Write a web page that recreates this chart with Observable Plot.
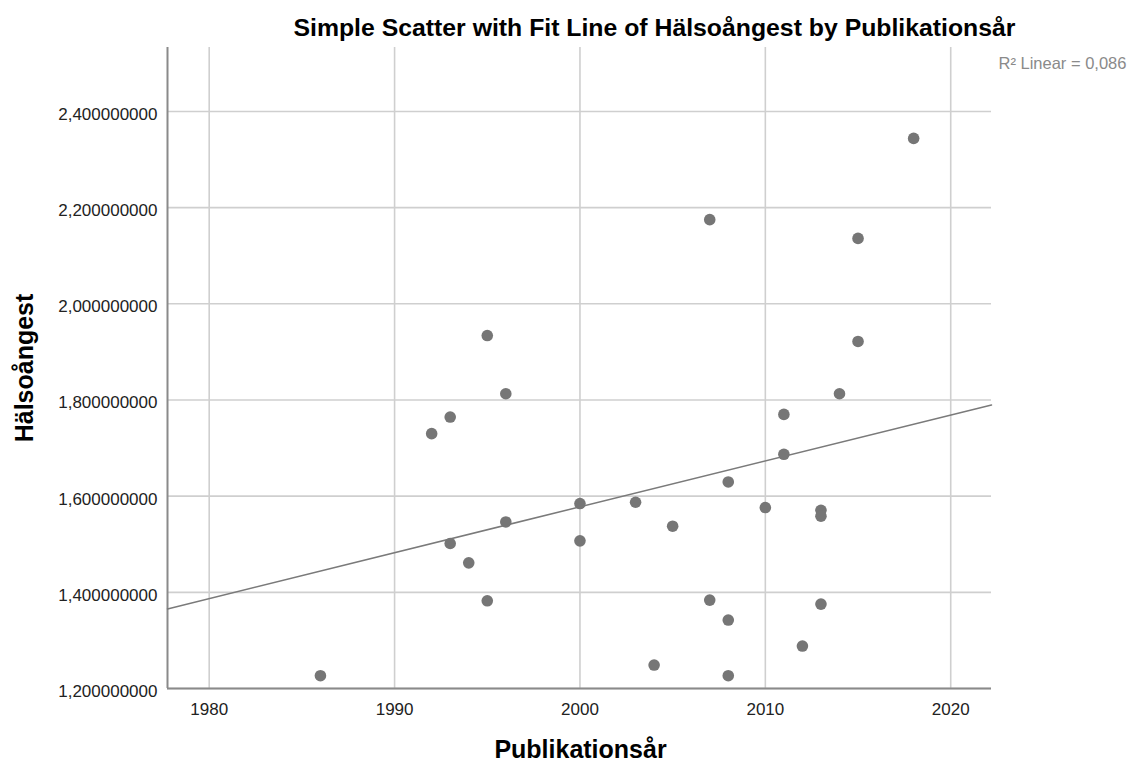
<!DOCTYPE html>
<html>
<head>
<meta charset="utf-8">
<script src="https://cdn.jsdelivr.net/npm/d3@7"></script>
<script src="https://cdn.jsdelivr.net/npm/@observablehq/plot@0.6"></script>
<style>
  html, body { margin: 0; padding: 0; background: #fff; }
</style>
</head>
<body>
<div id="chart"></div>
<script>
// Data
const years = [1986, 1992, 1993, 1993, 1994, 1995, 1995, 1996, 1996, 2000, 2000, 2003, 2004, 2005, 2007, 2007, 2008, 2008, 2008, 2010, 2011, 2011, 2012, 2013, 2013, 2013, 2014, 2015, 2015, 2018];
const halsoangest = [1.2266, 1.730, 1.7645, 1.5015, 1.4613, 1.934, 1.3824, 1.813, 1.5464, 1.5846, 1.507, 1.5873, 1.2488, 1.5375, 2.175, 1.3838, 1.6295, 1.3423, 1.2266, 1.5763, 1.770, 1.687, 1.2883, 1.5707, 1.5583, 1.3755, 1.813, 2.136, 1.9217, 2.344];
const xTicks = [1980, 1990, 2000, 2010, 2020];
const yTicks = [1.2, 1.4, 1.6, 1.8, 2.0, 2.2, 2.4];
const xDomain = [1977.75, 2022.2];
const yDomain = [1.2, 2.533];
const titleText = "Simple Scatter with Fit Line of Hälsoångest by Publikationsår";
const xLabel = "Publikationsår";
const yLabel = "Hälsoångest";
const r2Label = "R\u00B2 Linear = 0,086";

const points = years.map((x, i) => ({x, y: halsoangest[i]}));

// Least-squares fit line across the full axis range
const mx = d3.mean(years), my = d3.mean(halsoangest);
const sxy = d3.sum(points, d => (d.x - mx) * (d.y - my));
const sxx = d3.sum(points, d => (d.x - mx) ** 2);
const slope = sxy / sxx, intercept = my - slope * mx;
const fit = xDomain.map(x => ({x, y: intercept + slope * x}));

const font = "'Liberation Sans', Arial, sans-serif";

const chart = Plot.plot({
  width: 1132,
  height: 765,
  marginLeft: 167,
  marginRight: 141,
  marginTop: 47,
  marginBottom: 77,
  style: {fontFamily: font, background: "#fff", color: "#222"},
  x: {domain: xDomain, ticks: xTicks},
  y: {domain: yDomain, ticks: yTicks},
  marks: [
    Plot.gridX(xTicks, {stroke: "#cfcfcf", strokeOpacity: 1, strokeWidth: 1.6}),
    Plot.gridY(yTicks, {stroke: "#cfcfcf", strokeOpacity: 1, strokeWidth: 1.6}),
    Plot.ruleX([xDomain[0]], {stroke: "#8a8a8a", strokeWidth: 2}),
    Plot.ruleY([yDomain[0]], {stroke: "#8a8a8a", strokeWidth: 2}),
    Plot.axisX(xTicks, {tickSize: 0, tickPadding: 14, fontSize: 17, label: null, tickFormat: d => String(d), fill: "#222"}),
    Plot.axisY(yTicks, {tickSize: 0, tickPadding: 10, fontSize: 17, dy: 3, label: null, tickFormat: d => d.toFixed(9).replace(".", ","), fill: "#222"}),
    Plot.line(fit, {x: "x", y: "y", stroke: "#7a7a7a", strokeWidth: 1.5}),
    Plot.dot(points, {x: "x", y: "y", r: 5.8, fill: "#767676", stroke: "none"}),
    Plot.text([titleText], {frameAnchor: "top", dx: 75, dy: -12, lineAnchor: "bottom", fontSize: 24.8, fontWeight: "bold", fill: "#000"}),
    Plot.text([xLabel], {frameAnchor: "bottom", dx: 1, dy: 69, lineAnchor: "bottom", fontSize: 25, fontWeight: "bold", fill: "#000"}),
    Plot.text([yLabel], {frameAnchor: "left", dx: -135, rotate: -90, textAnchor: "middle", lineAnchor: "bottom", fontSize: 25, fontWeight: "bold", fill: "#000"}),
    Plot.text([r2Label], {frameAnchor: "top-right", dx: 7, dy: 21, textAnchor: "start", lineAnchor: "bottom", fontSize: 16.5, fill: "#8a8a8a"})
  ]
});
document.getElementById("chart").appendChild(chart);
</script>
</body>
</html>
